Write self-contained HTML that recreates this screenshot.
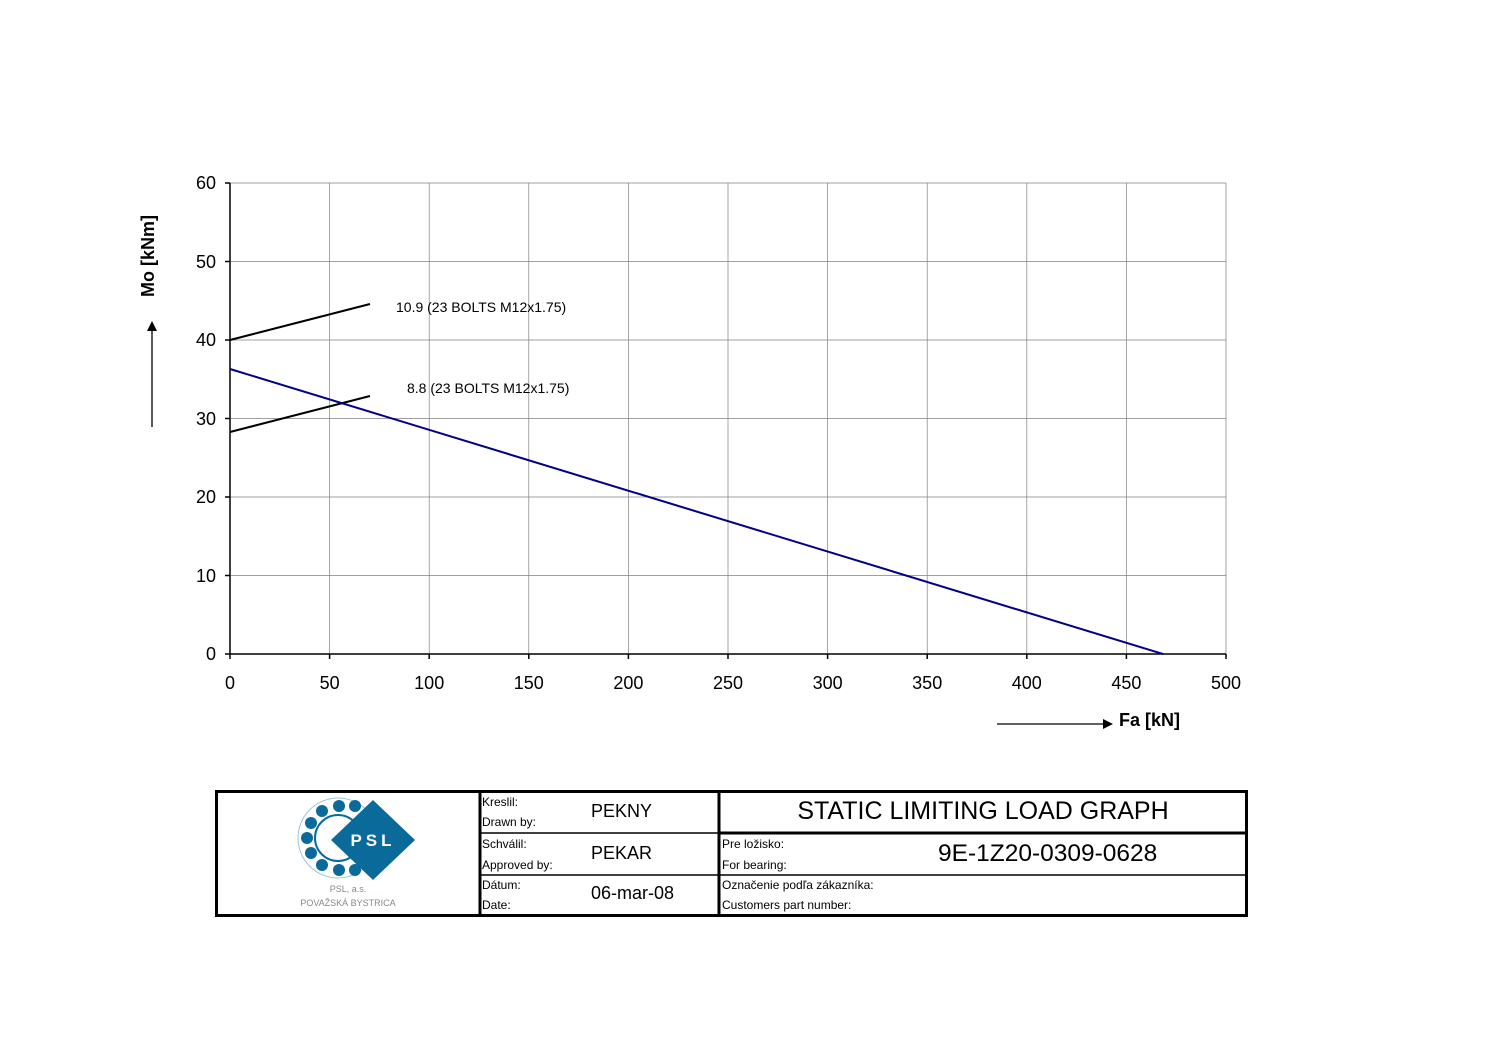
<!DOCTYPE html>
<html><head><meta charset="utf-8"><style>
body{margin:0;background:#fff;width:1497px;height:1058px;overflow:hidden;font-family:"Liberation Sans",sans-serif}
</style></head><body>
<svg width="1497" height="1058" xmlns="http://www.w3.org/2000/svg" font-family="Liberation Sans, sans-serif">
<g stroke="#808080" stroke-width="0.7">
<line x1="329.6" y1="183" x2="329.6" y2="654"/><line x1="429.2" y1="183" x2="429.2" y2="654"/><line x1="528.8" y1="183" x2="528.8" y2="654"/><line x1="628.4" y1="183" x2="628.4" y2="654"/><line x1="728" y1="183" x2="728" y2="654"/><line x1="827.6" y1="183" x2="827.6" y2="654"/><line x1="927.2" y1="183" x2="927.2" y2="654"/><line x1="1026.8" y1="183" x2="1026.8" y2="654"/><line x1="1126.4" y1="183" x2="1126.4" y2="654"/><line x1="1226" y1="183" x2="1226" y2="654"/>
<line x1="230" y1="183" x2="1226" y2="183"/><line x1="230" y1="261.5" x2="1226" y2="261.5"/><line x1="230" y1="340" x2="1226" y2="340"/><line x1="230" y1="418.5" x2="1226" y2="418.5"/><line x1="230" y1="497" x2="1226" y2="497"/><line x1="230" y1="575.5" x2="1226" y2="575.5"/>
</g>
<g stroke="#000" stroke-width="1.5">
<line x1="230" y1="183" x2="230" y2="654"/><line x1="230" y1="654" x2="1226" y2="654"/>
<line x1="225" y1="183" x2="230" y2="183"/><line x1="225" y1="261.5" x2="230" y2="261.5"/><line x1="225" y1="340" x2="230" y2="340"/><line x1="225" y1="418.5" x2="230" y2="418.5"/><line x1="225" y1="497" x2="230" y2="497"/><line x1="225" y1="575.5" x2="230" y2="575.5"/><line x1="225" y1="654" x2="230" y2="654"/>
<line x1="230" y1="654" x2="230" y2="659"/><line x1="329.6" y1="654" x2="329.6" y2="659"/><line x1="429.2" y1="654" x2="429.2" y2="659"/><line x1="528.8" y1="654" x2="528.8" y2="659"/><line x1="628.4" y1="654" x2="628.4" y2="659"/><line x1="728" y1="654" x2="728" y2="659"/><line x1="827.6" y1="654" x2="827.6" y2="659"/><line x1="927.2" y1="654" x2="927.2" y2="659"/><line x1="1026.8" y1="654" x2="1026.8" y2="659"/><line x1="1126.4" y1="654" x2="1126.4" y2="659"/><line x1="1226" y1="654" x2="1226" y2="659"/>
</g>
<g stroke="#000" stroke-width="2">
<line x1="230" y1="340" x2="370" y2="304"/><line x1="230" y1="432" x2="370" y2="396"/>
</g>
<line x1="230" y1="369" x2="1163" y2="654" stroke="#00008b" stroke-width="2"/>
<g font-size="18" text-anchor="end">
<text x="216" y="189">60</text><text x="216" y="268">50</text><text x="216" y="346">40</text><text x="216" y="425">30</text><text x="216" y="503">20</text><text x="216" y="582">10</text><text x="216" y="660">0</text></g>
<g font-size="18" text-anchor="middle">
<text x="230" y="689">0</text><text x="329.6" y="689">50</text><text x="429.2" y="689">100</text><text x="528.8" y="689">150</text><text x="628.4" y="689">200</text><text x="728" y="689">250</text><text x="827.6" y="689">300</text><text x="927.2" y="689">350</text><text x="1026.8" y="689">400</text><text x="1126.4" y="689">450</text><text x="1226" y="689">500</text></g>
<text x="396" y="312" font-size="14">10.9 (23 BOLTS M12x1.75)</text>
<text x="407" y="393" font-size="14">8.8 (23 BOLTS M12x1.75)</text>
<text transform="translate(154,256) rotate(-90)" font-size="18" font-weight="bold" text-anchor="middle">Mo [kNm]</text>
<line x1="152" y1="427" x2="152" y2="330" stroke="#000" stroke-width="1.3"/><polygon points="152,321 147,331 157,331" fill="#000"/>
<line x1="997" y1="724" x2="1104" y2="724" stroke="#000" stroke-width="1.3"/><polygon points="1113,724 1103,719 1103,729" fill="#000"/>
<text x="1119" y="726" font-size="18" font-weight="bold">Fa [kN]</text>
<g stroke="#000" fill="none">
<rect x="216.5" y="791.5" width="1030" height="124" stroke-width="3"/>
<line x1="480" y1="791" x2="480" y2="916" stroke-width="3"/>
<line x1="719" y1="791" x2="719" y2="916" stroke-width="3"/>
<line x1="480" y1="833" x2="719" y2="833" stroke-width="1.5"/>
<line x1="480" y1="875" x2="719" y2="875" stroke-width="1.5"/>
<line x1="719" y1="833" x2="1247" y2="833" stroke-width="3"/>
<line x1="719" y1="875" x2="1247" y2="875" stroke-width="1.5"/>
</g>
<g font-size="12">
<text x="482" y="806">Kreslil:</text><text x="482" y="826">Drawn by:</text>
<text x="482" y="848">Schválil:</text><text x="482" y="869">Approved by:</text>
<text x="482" y="889">Dátum:</text><text x="482" y="909">Date:</text>
<text x="722" y="848">Pre ložisko:</text><text x="722" y="869">For bearing:</text>
<text x="722" y="889">Označenie podľa zákazníka:</text><text x="722" y="909">Customers part number:</text>
</g>
<g font-size="18"><text x="591" y="817">PEKNY</text><text x="591" y="859">PEKAR</text><text x="591" y="899">06-mar-08</text></g>
<text x="938" y="861" font-size="24.5">9E-1Z20-0309-0628</text>
<text x="983" y="819" font-size="25" text-anchor="middle">STATIC LIMITING LOAD GRAPH</text>
<g fill="#0a6a9a">
<circle cx="338" cy="838" r="40" fill="none" stroke="#0a6a9a" stroke-width="1" opacity="0.4"/>
<circle cx="339" cy="806" r="6"/><circle cx="322" cy="811" r="6"/><circle cx="311" cy="823" r="6"/><circle cx="307" cy="838" r="6"/><circle cx="311" cy="853" r="6"/><circle cx="322" cy="865" r="6"/><circle cx="339" cy="870" r="6"/><circle cx="355" cy="806" r="6"/><circle cx="355" cy="870" r="6"/>
</g>
<circle cx="338" cy="838" r="23" fill="none" stroke="#0a6a9a" stroke-width="2"/>
<polygon points="373,800 415,840 373,880 331,840" fill="#0a6a9a"/>
<text x="373" y="846" font-size="17" font-weight="bold" fill="#fff" text-anchor="middle" letter-spacing="4">PSL</text>
<text x="348" y="892" font-size="9" fill="#888" text-anchor="middle">PSL, a.s.</text>
<text x="348" y="906" font-size="9" fill="#888" text-anchor="middle">POVAŽSKÁ BYSTRICA</text>
</svg>
</body></html>
